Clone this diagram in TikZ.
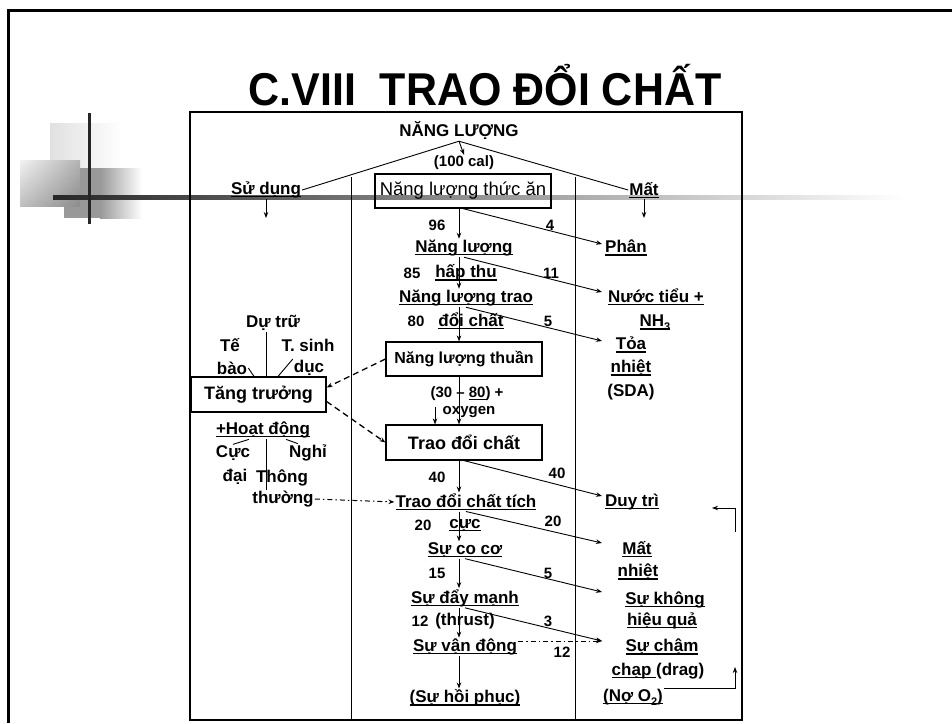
\documentclass[tikz,border=0pt]{standalone}
\usepackage{fontspec}
\setmainfont{Liberation Sans}
\usepackage{graphicx}
\usetikzlibrary{arrows.meta,shadings}
\newcommand{\und}[1]{\setbox0\hbox{#1}\rlap{\rule[-0.17em]{\wd0}{0.08em}}\box0}
\newcommand{\sub}[1]{\raisebox{-0.25em}{\fontsize{11}{11}\selectfont #1}}
\tikzset{
  lbl/.style={font=\fontsize{17}{23}\selectfont\bfseries, inner sep=1pt, align=center},
  num/.style={font=\fontsize{15}{17}\selectfont\bfseries, inner sep=1pt},
  stage/.style={draw, line width=1.2pt, inner sep=0pt, minimum height=34pt},
  flow/.style={->, line width=0.9pt},
  feed/.style={->, line width=1.3pt, dash pattern=on 6pt off 4pt},
  link/.style={->, line width=1pt, dash pattern=on 5pt off 3pt on 1.5pt off 3pt}
}

\begin{document}
\begin{tikzpicture}[x=1pt, y=-1pt, >={Stealth[length=6pt,width=4.5pt]}]
\useasboundingbox (0,0) rectangle (952,723);
% slide frame and corner decoration
\draw[line width=3pt] (8,723) -- (8,10) -- (952,10);
\shade[left color=black!12, right color=white] (50,123) rectangle (122,168);
\fill[black!40] (64,168) rectangle (100,218);
\shade[left color=black!40, right color=white] (100,168) rectangle (142,218);
\shade[upper left=black!5, upper right=black!30, lower left=black!25, lower right=black!45] (20,160) rectangle (80,206);
\shade[left color=black!85, right color=white] (53,195.5) rectangle (903,199.5);
\fill[black!85] (87.5,113) rectangle (90.5,224);

\node at (485, 85) (title) {\fontsize{46}{50}\selectfont\bfseries\scalebox{0.934}[1]{C.VIII\ \ TRAO ĐỔI CHẤT}};

% frame of the chart
\draw[line width=1.2pt] (190,112) rectangle (742,720);
\draw[line width=1pt] (351,177) -- (351,720);
\draw[line width=1pt] (575,177) -- (575,720);

% middle column
\node[lbl] at (459, 131) (nl) {NĂNG LƯỢNG};
\node[num] at (464, 163) (cal) {(100 cal)};
\node[stage, minimum width=176pt, font=\fontsize{18.5}{20}\selectfont] at (463, 191) (food) {Năng lượng thức ăn};
\node[lbl] at (464, 248) (nlht1) {\und{Năng lượng}};
\node[lbl] at (466, 273) (nlht2) {\und{hấp thu}};
\node[lbl] at (466, 298) (nltd1) {\und{Năng lượng trao}};
\node[lbl] at (471, 321) (nltd2) {\und{đổi chất}};
\node[stage, minimum width=156pt, font=\fontsize{16}{18}\selectfont\bfseries] at (464, 359) (thuan) {Năng lượng thuần};
\node[num] at (467, 394) (ox1) {(30 -- \und{80}) +};
\node[num] at (469, 412) (ox2) {oxygen};
\node[stage, minimum width=156pt, minimum height=35pt, font=\fontsize{18}{20}\selectfont\bfseries] at (464, 442.5) (tdc) {Trao đổi chất};
\node[lbl] at (466, 502) (tich1) {\und{Trao đổi chất tích}};
\node[lbl] at (465, 525) (tich2) {\und{cực}};
\node[lbl] at (465, 550) (coco) {\und{Sự co cơ}};
\node[lbl] at (465, 598) (dayman) {\und{Sự đẩy mạnh}};
\node[lbl] at (465, 621) (thrust) {(thrust)};
\node[lbl] at (465, 647) (vandong) {\und{Sự vận động}};
\node[lbl] at (465, 698) (hoiphuc) {\und{(Sự hồi phục)}};

% numbers
\node[num] at (437, 225) (n96) {96};
\node[num] at (550, 225) (n4) {4};
\node[num] at (412, 273) (n85) {85};
\node[num] at (551, 273) (n11) {11};
\node[num] at (416, 321) (n80) {80};
\node[num] at (548, 321) (n5) {5};
\node[num] at (437, 477) (n40a) {40};
\node[num] at (557, 473) (n40b) {40};
\node[num] at (423, 525) (n20a) {20};
\node[num] at (553, 521) (n20b) {20};
\node[num] at (437, 573) (n15) {15};
\node[num] at (548, 573) (n5b) {5};
\node[num] at (420, 621) (n12a) {12};
\node[num] at (548, 621) (n3) {3};
\node[num] at (562, 652) (n12b) {12};

% left column
\node[lbl] at (266, 190) (sudung) {\und{Sử dụng}};
\node[lbl] at (273, 323) (dutru) {Dự trữ};
\node[lbl] at (230, 345) (te) {Tế};
\node[lbl] at (232, 368) (bao) {bào};
\node[lbl] at (308, 345) (tsinh) {T. sinh};
\node[lbl] at (309, 368) (duc) {dục};
\node[stage, minimum width=135pt, minimum height=35pt, font=\fontsize{18}{20}\selectfont\bfseries] at (258.5, 394.5) (tang) {Tăng trưởng};
\node[lbl] at (263, 430) (hoat) {\und{+Hoạt động}};
\node[lbl] at (233, 453) (cuc) {Cực};
\node[lbl] at (235, 477) (dai) {đại};
\node[lbl] at (308, 453) (nghi) {Nghỉ};
\node[lbl] at (282, 478) (thong) {Thông};
\node[lbl] at (283, 499) (thuong) {thường};

% right column
\node[lbl] at (644, 190) (mat) {\und{Mất}};
\node[lbl] at (626, 248) (phan) {\und{Phân}};
\node[lbl] at (656, 297) (nuoc1) {\und{Nước tiểu +}};
\node[lbl] at (655, 323) (nuoc2) {\und{NH\sub{3}}};
\node[lbl] at (631, 345) (toa) {\und{Tỏa}};
\node[lbl] at (631, 368) (nhiet) {\und{nhiệt}};
\node[lbl] at (631, 392) (sda) {(SDA)};
\node[lbl] at (632, 502) (duytri) {\und{Duy trì}};
\node[lbl] at (637, 549) (matn1) {\und{Mất}};
\node[lbl] at (638, 572) (matn2) {\und{nhiệt}};
\node[lbl] at (665, 600) (khong1) {\und{Sự không}};
\node[lbl] at (662, 621) (khong2) {\und{hiệu quả}};
\node[lbl] at (662, 647) (cham1) {\und{Sự chậm}};
\node[lbl] at (658, 671) (cham2) {\und{chạp }(drag)};
\node[lbl] at (633, 697) (no2) {\und{(Nợ O\sub{2})}};

% helper coordinates
\coordinate (ax) at (459,0);
\coordinate (rx) at (602,0);
\coordinate (lx) at (266,0);
\coordinate (sdend) at (266,218);
\coordinate (mtend) at (644,218);
\coordinate (oxa) at (435,407);
\coordinate (tangtop) at (tang.north -| lx);
\coordinate (hoatbot) at (hoat.south -| lx);
\coordinate (rb1) at (735,532);
\coordinate (rb1end) at (712,508);
\coordinate (rb2) at (735,667);

% top split
\draw[line width=0.9pt] (sudung.east) -- (nl.south) -- (mat.west);
\draw[flow] (nl.south) -- (cal.north);
\draw[flow] (sudung.south) -- (sdend);
\draw[flow] (mat.south) -- (mtend);

% main chain
\draw[flow] (food.south -| ax) -- (nlht1.north -| ax);
\draw[flow] (nlht1.south -| ax) -- (nltd1.north -| ax);
\draw[flow] (nltd1.south -| ax) -- (thuan.north -| ax);
\draw[flow] (thuan.south -| ax) -- (tdc.north -| ax);
\draw[flow] (oxa) -- (oxa |- tdc.north);
\draw[flow] (tdc.south -| ax) -- (tich1.north -| ax);
\draw[flow] (tich1.south -| ax) -- (coco.north -| ax);
\draw[flow] (coco.south -| ax) -- (dayman.north -| ax);
\draw[flow] (dayman.south -| ax) -- (vandong.north -| ax);
\draw[flow] (vandong.south -| ax) -- (hoiphuc.north -| ax);

% losses
\draw[flow] (food.south) -- ([yshift=4pt]phan.west -| rx);
\draw[flow] (nlht1.south) -- ([yshift=5pt]nuoc1.west -| rx);
\draw[flow] (nltd1.south) -- ([yshift=4pt]toa.west -| rx);
\draw[flow] (tdc.south) -- ([yshift=6pt]duytri.west -| rx);
\draw[flow] (tich1.south) -- ([yshift=6pt]matn1.west -| rx);
\draw[flow] (coco.south) -- ([yshift=8pt]khong1.west -| rx);
\draw[flow] (dayman.south) -- ([yshift=6pt]cham1.west -| rx);
\draw[link] ([yshift=6pt]vandong.east) -- ([yshift=6pt]cham1.west -| rx);

% growth and activity
\draw[feed] (thuan.west) -- ([yshift=7pt]tang.east);
\draw[feed] ([yshift=-7pt]tang.east) -- (tdc.west);
\draw[link] (thuong.east) -- (tich1.west);
\draw[line width=0.9pt] (dutru.south -| lx) -- (tangtop);
\draw[line width=0.9pt] (bao.east) -- ([xshift=-12pt]tangtop);
\draw[line width=0.9pt] (duc.north west) -- ([xshift=12pt]tangtop);
\draw[line width=0.9pt] (hoatbot) -- (thuong.north -| lx);
\draw[line width=0.9pt] ([xshift=-17pt]hoatbot) -- (cuc.north);
\draw[line width=0.9pt] ([xshift=20pt]hoatbot) -- ([xshift=10pt]nghi.north west);

% oxygen debt
\draw[flow] (rb1) |- (rb1end);
\draw[flow] ([yshift=9pt]no2.east) -| (rb2);
\end{tikzpicture}
\end{document}
